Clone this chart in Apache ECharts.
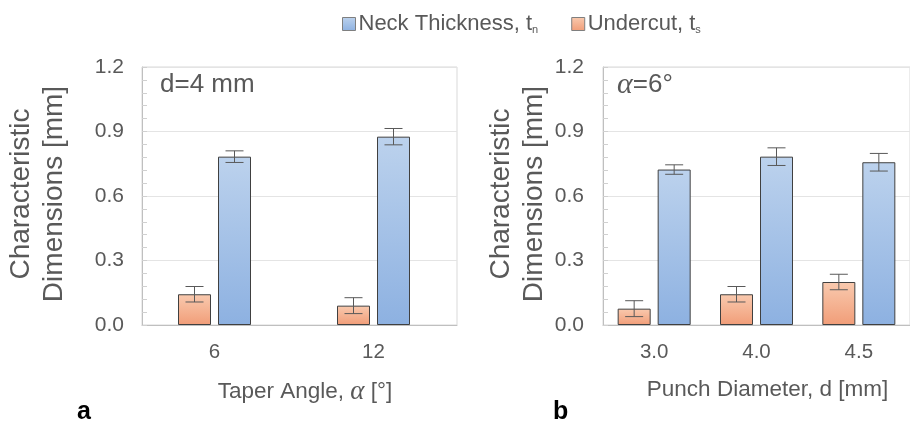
<!DOCTYPE html>
<html>
<head>
<meta charset="utf-8">
<script src="https://cdn.jsdelivr.net/npm/echarts@6/dist/echarts.min.js"></script>
<style>
html,body{margin:0;padding:0;background:#fff;}
#chart{width:910px;height:424px;}
</style>
</head>
<body>
<div id="chart"></div>
<script>
// ---- data ----
const leftCategories = ['6', '12'];
const leftUndercut = [0.143, 0.090];
const leftUndercutErr = [0.036, 0.037];
const leftNeck = [0.783, 0.876];
const leftNeckErr = [0.027, 0.038];

const rightCategories = ['3.0', '4.0', '4.5'];
const rightUndercut = [0.076, 0.143, 0.200];
const rightUndercutErr = [0.037, 0.036, 0.036];
const rightNeck = [0.723, 0.783, 0.757];
const rightNeckErr = [0.022, 0.041, 0.041];

const yMin = 0, yMax = 1.2, yInterval = 0.3;
const legendNames = ['Neck Thickness, tn', 'Undercut, ts'];

// ---- styles ----
const FONT = 'Liberation Sans';
const GRAY = '#595959';
const BAR_W = 33, BAR_GAP_PX = 7;
const OFFSET = (BAR_W + BAR_GAP_PX) / 2;

const orangeFill = new echarts.graphic.LinearGradient(0, 0, 0, 1, [
  {offset: 0, color: '#f9caaf'}, {offset: 1, color: '#f19d78'}
]);
const blueFill = new echarts.graphic.LinearGradient(0, 0, 0, 1, [
  {offset: 0, color: '#bcd2ed'}, {offset: 1, color: '#8db1e1'}
]);

function errData(means, errs) {
  return means.map((m, i) => [i, m - errs[i], m + errs[i]]);
}
function errRender(offset) {
  return function (params, api) {
    const i = api.value(0);
    const lo = api.coord([i, api.value(1)]);
    const hi = api.coord([i, api.value(2)]);
    const x = lo[0] + offset;
    const w = 9;
    const st = {stroke: '#595959', lineWidth: 1};
    return {type: 'group', children: [
      {type: 'line', shape: {x1: x, y1: hi[1], x2: x, y2: lo[1]}, style: st},
      {type: 'line', shape: {x1: x - w, y1: hi[1], x2: x + w, y2: hi[1]}, style: st},
      {type: 'line', shape: {x1: x - w, y1: lo[1], x2: x + w, y2: lo[1]}, style: st}
    ]};
  };
}

function frameYAxis(gridIndex, margin) {
  return {
    gridIndex: gridIndex, type: 'value', min: yMin, max: yMax, interval: yInterval,
    axisLine: {show: true, lineStyle: {color: '#bfbfbf'}},
    axisTick: {show: true, inside: true, length: 5, lineStyle: {color: '#d0d0d0'}},
    minorTick: {show: true, splitNumber: 5, length: 5, lineStyle: {color: '#d0d0d0'}},
    splitLine: {show: true, lineStyle: {color: '#e4e4e4'}},
    axisLabel: {color: GRAY, fontFamily: FONT, fontSize: 21, margin: margin,
      formatter: v => v.toFixed(1)}
  };
}

const axisNameRich = {
  a: {fontFamily: 'Liberation Serif', fontStyle: 'italic', fontSize: 27, color: GRAY}
};

const barLabel = {color: GRAY, fontFamily: FONT, fontSize: 20.5, margin: 17};

const chart = echarts.init(document.getElementById('chart'));
chart.setOption({
  animation: false,
  backgroundColor: '#fff',
  textStyle: {fontFamily: FONT},
  legend: {
    data: legendNames,
    left: 337, top: 8,
    itemWidth: 13, itemHeight: 13, itemGap: 33,
    icon: 'rect',
    itemStyle: {borderColor: '#7f7f7f', borderWidth: 1},
    formatter: function (name) {
      return name === legendNames[0]
        ? '{m|Neck Thickness, t}{s|n}'
        : '{m|Undercut, t}{s|s}';
    },
    textStyle: {
      color: GRAY, fontFamily: FONT, padding: [0, 0, 0, -2],
      rich: {
        m: {fontSize: 22, color: GRAY, fontFamily: FONT},
        s: {fontSize: 11, color: GRAY, fontFamily: FONT, padding: [11, 0, 0, 0]}
      }
    }
  },
  grid: [
    {left: 135, top: 67, width: 318, height: 258},
    {left: 142, top: 67, width: 315, height: 258, show: true, borderColor: '#d9d9d9', borderWidth: 1},
    {left: 603, top: 67, width: 327, height: 258, show: true, borderColor: '#d9d9d9', borderWidth: 1}
  ],
  xAxis: [
    {gridIndex: 0, type: 'category', data: leftCategories,
      axisLine: {show: false}, axisTick: {show: false}, axisLabel: barLabel,
      name: 'Taper Angle, {a|α} [°]', nameLocation: 'middle', nameGap: 53,
      nameTextStyle: {color: GRAY, fontFamily: FONT, fontSize: 22.5, padding: [0, 0, 0, 22], rich: axisNameRich}},
    {gridIndex: 1, type: 'value', min: 0, max: 1,
      axisLine: {show: true, lineStyle: {color: '#bfbfbf'}},
      axisTick: {show: false}, axisLabel: {show: false}, splitLine: {show: false}},
    {gridIndex: 2, type: 'category', data: rightCategories,
      axisLine: {show: true, lineStyle: {color: '#bfbfbf'}}, axisTick: {show: false}, axisLabel: barLabel,
      name: 'Punch Diameter, d [mm]', nameLocation: 'middle', nameGap: 53,
      nameTextStyle: {color: GRAY, fontFamily: FONT, fontSize: 22.5, padding: [0, 0, 0, 22]}}
  ],
  yAxis: [
    {gridIndex: 0, type: 'value', min: yMin, max: yMax, interval: yInterval, show: false},
    frameYAxis(1, 18),
    frameYAxis(2, 19)
  ],
  series: [
    {name: legendNames[1], type: 'bar', xAxisIndex: 0, yAxisIndex: 0, data: leftUndercut,
      barWidth: BAR_W, barGap: (BAR_GAP_PX / BAR_W * 100) + '%',
      itemStyle: {color: orangeFill, borderColor: '#404040', borderWidth: 1}},
    {name: legendNames[0], type: 'bar', xAxisIndex: 0, yAxisIndex: 0, data: leftNeck,
      barWidth: BAR_W, barGap: (BAR_GAP_PX / BAR_W * 100) + '%',
      itemStyle: {color: blueFill, borderColor: '#404040', borderWidth: 1}},
    {type: 'custom', xAxisIndex: 0, yAxisIndex: 0, z: 5, renderItem: errRender(-OFFSET),
      data: errData(leftUndercut, leftUndercutErr)},
    {type: 'custom', xAxisIndex: 0, yAxisIndex: 0, z: 5, renderItem: errRender(OFFSET),
      data: errData(leftNeck, leftNeckErr)},
    {name: legendNames[1], type: 'bar', xAxisIndex: 2, yAxisIndex: 2, data: rightUndercut,
      barWidth: BAR_W, barGap: (BAR_GAP_PX / BAR_W * 100) + '%',
      itemStyle: {color: orangeFill, borderColor: '#404040', borderWidth: 1}},
    {name: legendNames[0], type: 'bar', xAxisIndex: 2, yAxisIndex: 2, data: rightNeck,
      barWidth: BAR_W, barGap: (BAR_GAP_PX / BAR_W * 100) + '%',
      itemStyle: {color: blueFill, borderColor: '#404040', borderWidth: 1}},
    {type: 'custom', xAxisIndex: 2, yAxisIndex: 2, z: 5, renderItem: errRender(-OFFSET),
      data: errData(rightUndercut, rightUndercutErr)},
    {type: 'custom', xAxisIndex: 2, yAxisIndex: 2, z: 5, renderItem: errRender(OFFSET),
      data: errData(rightNeck, rightNeckErr)}
  ],
  graphic: [
    {type: 'text', x: 38, y: 194, rotation: Math.PI / 2,
      style: {text: 'Characteristic\nDimensions [mm]', font: '28px "Liberation Sans"', fill: GRAY,
        align: 'center', verticalAlign: 'middle', lineHeight: 33}},
    {type: 'text', x: 518, y: 194, rotation: Math.PI / 2,
      style: {text: 'Characteristic\nDimensions [mm]', font: '28px "Liberation Sans"', fill: GRAY,
        align: 'center', verticalAlign: 'middle', lineHeight: 33}},
    {type: 'text', left: 160, top: 72,
      style: {text: 'd=4 mm', font: '26px "Liberation Sans"', fill: GRAY}},
    {type: 'text', left: 617, top: 70,
      style: {text: '{a|α}{b|=6°}', fill: GRAY,
        rich: {a: {fontFamily: 'Liberation Serif', fontStyle: 'italic', fontSize: 30, fill: GRAY, color: GRAY},
               b: {fontFamily: FONT, fontSize: 26, fill: GRAY, color: GRAY}}}},
    {type: 'text', left: 77, top: 400,
      style: {text: 'a', font: 'bold 25px "Liberation Sans"', fill: '#000'}},
    {type: 'text', left: 553, top: 400,
      style: {text: 'b', font: 'bold 25px "Liberation Sans"', fill: '#000'}}
  ]
});
</script>
</body>
</html>
